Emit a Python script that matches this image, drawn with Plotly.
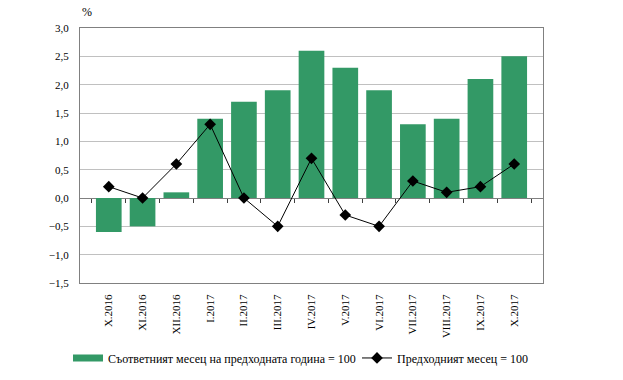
import plotly.graph_objects as go

categories = ["X.2016", "XI.2016", "XII.2016", "I.2017", "II.2017", "III.2017", "IV.2017",
              "V.2017", "VI.2017", "VII.2017", "VIII.2017", "IX.2017", "X.2017"]
yoy_values = [-0.6, -0.5, 0.1, 1.4, 1.7, 1.9, 2.6, 2.3, 1.9, 1.3, 1.4, 2.1, 2.5]
mom_values = [0.2, 0.0, 0.6, 1.3, 0.0, -0.5, 0.7, -0.3, -0.5, 0.3, 0.1, 0.2, 0.6]
yoy_name = "Съответният месец на предходната година = 100"
mom_name = "Предходният месец = 100"
y_ticks = [-1.5, -1.0, -0.5, 0.0, 0.5, 1.0, 1.5, 2.0, 2.5, 3.0]

FONT = "Liberation Serif"
GREEN = "#339966"

fig = go.Figure()
fig.add_trace(go.Bar(
    x=categories, y=yoy_values, name=yoy_name, legendgroup="yoy", showlegend=False,
    marker=dict(color=GREEN, line=dict(width=0)),
))
# legend stand-in for the bars (flat wide swatch as in the reference)
fig.add_trace(go.Scatter(
    x=[None], y=[None], name=yoy_name, legendgroup="yoy", legend="legend",
    mode="lines", line=dict(color=GREEN, width=7), hoverinfo="skip",
))
fig.add_trace(go.Scatter(
    x=categories, y=mom_values, name=mom_name, mode="lines+markers", legend="legend2",
    line=dict(color="black", width=1),
    marker=dict(symbol="diamond", size=9, color="black"),
))
# invisible helper trace so the zero-line tick axis is drawn
fig.add_trace(go.Scatter(
    x=categories, y=[None] * len(categories), xaxis="x2", yaxis="y",
    showlegend=False, hoverinfo="skip", mode="lines",
))

legend_common = dict(orientation="h", xref="container", yref="container",
                     xanchor="left", y=0.058, yanchor="middle",
                     font=dict(family=FONT, size=12), itemwidth=30,
                     bgcolor="rgba(0,0,0,0)", borderwidth=0)

fig.update_layout(
    width=623, height=380,
    margin=dict(l=80, r=80, t=28, b=97),
    paper_bgcolor="white", plot_bgcolor="white",
    font=dict(family=FONT, size=11, color="black"),
    separators=", ",
    bargap=0.24,
    showlegend=True,
    legend=dict(x=68 / 623, **legend_common),
    legend2=dict(x=357 / 623, **legend_common),
    xaxis=dict(
        type="category", showgrid=False, tickangle=-90, ticks="", automargin=False,
        showline=True, linecolor="#808080", linewidth=1, mirror=True,
        tickfont=dict(family=FONT, size=11), ticklabelstandoff=6,
    ),
    xaxis2=dict(
        matches="x", overlaying="x", anchor="free", position=1.5 / 4.5,
        type="category", showgrid=False, showline=False, showticklabels=False,
        ticks="outside", ticklen=4, tickcolor="#404040", tickson="boundaries",
        automargin=False,
    ),
    yaxis=dict(
        range=[-1.5, 3.0], tickvals=y_ticks, tickformat=".1f", automargin=False,
        showgrid=True, gridcolor="#c0c0c0", gridwidth=1,
        zeroline=True, zerolinecolor="#808080", zerolinewidth=1,
        showline=True, linecolor="#808080", linewidth=1, mirror=True,
        ticks="", tickfont=dict(family=FONT, size=11), ticklabelstandoff=8,
    ),
    annotations=[dict(text="%", xref="paper", yref="paper", x=0.0, y=1.063,
                      xanchor="left", yanchor="middle", showarrow=False,
                      font=dict(family=FONT, size=12))],
)

fig.write_html("out.html", config={"displayModeBar": False},
               post_script="document.body.style.margin='0';")
